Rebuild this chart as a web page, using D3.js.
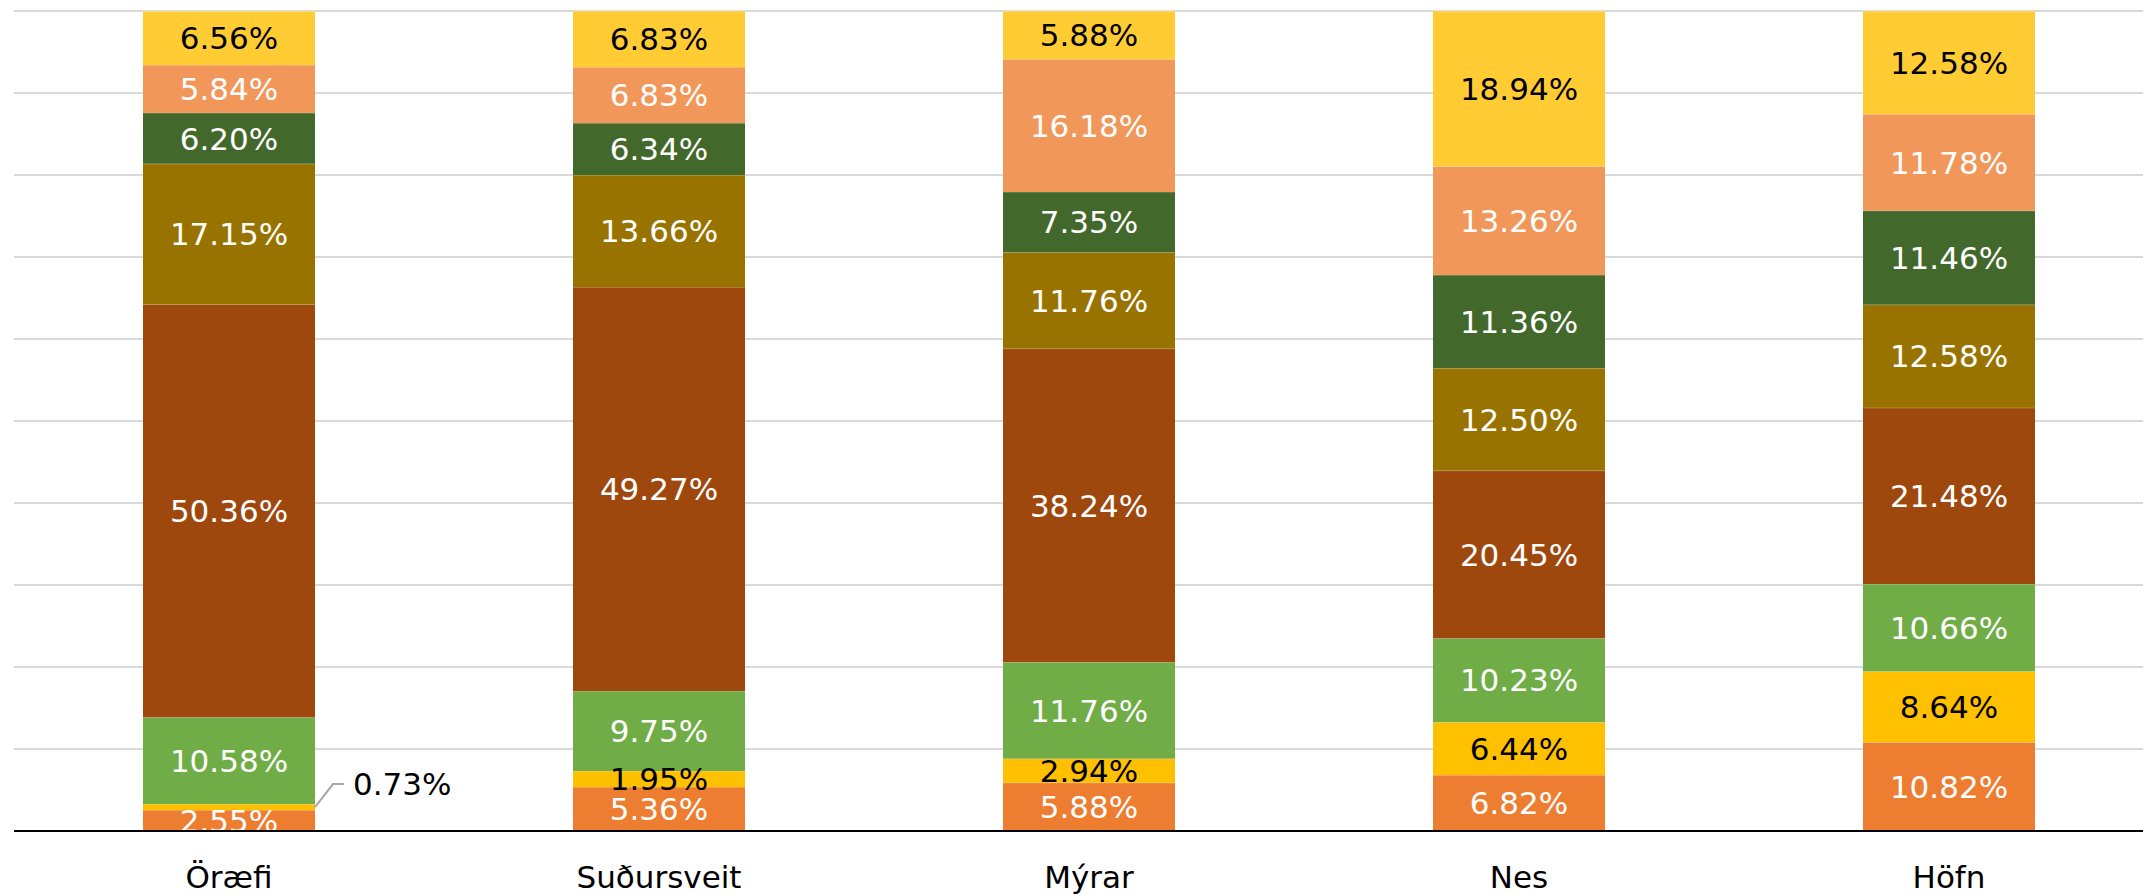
<!DOCTYPE html>
<html>
<head>
<meta charset="utf-8">
<script src="https://cdn.jsdelivr.net/npm/d3@7"></script>
<style>
  html, body { margin: 0; padding: 0; background: #ffffff; }
  svg { display: block; }
</style>
</head>
<body>
<svg id="chart" width="2143" height="895"></svg>
<script>
// ---- data ----
const categories = ["Öræfi", "Suðursveit", "Mýrar", "Nes", "Höfn"];
const seriesNames = ["s1", "s2", "s3", "s4", "s5", "s6", "s7", "s8"];
const s1 = [2.55, 5.36, 5.88, 6.82, 10.82];
const s2 = [0.73, 1.95, 2.94, 6.44, 8.64];
const s3 = [10.58, 9.75, 11.76, 10.23, 10.66];
const s4 = [50.36, 49.27, 38.24, 20.45, 21.48];
const s5 = [17.15, 13.66, 11.76, 12.50, 12.58];
const s6 = [6.20, 6.34, 7.35, 11.36, 11.46];
const s7 = [5.84, 6.83, 16.18, 13.26, 11.78];
const s8 = [6.56, 6.83, 5.88, 18.94, 12.58];
const yTicks = [0, 10, 20, 30, 40, 50, 60, 70, 80, 90, 100];

const seriesValues = [s1, s2, s3, s4, s5, s6, s7, s8];
const colors = ["#ED7D31", "#FFC000", "#70AD47", "#9E480E", "#997300", "#43682B", "#F1975A", "#FFCD33"];
const labelColors = ["#ffffff", "#000000", "#ffffff", "#ffffff", "#ffffff", "#ffffff", "#ffffff", "#000000"];
const FONT = "'DejaVu Sans', 'Liberation Sans', Arial, sans-serif";

const rows = categories.map((c, i) => {
  const r = { cat: c };
  seriesNames.forEach((s, k) => r[s] = seriesValues[k][i]);
  return r;
});

const svg = d3.select("#chart");
const plotLeft = 14, plotTop = 11, plotBottom = 831;

const x = d3.scaleBand().domain(categories).range([plotLeft, plotLeft + 2150])
  .paddingInner(0.6).paddingOuter(0.3);
const y = d3.scaleLinear().domain([0, 100]).range([plotBottom, plotTop]);

// gridlines
svg.append("g").selectAll("line").data(yTicks.filter(t => t > 0)).join("line")
  .attr("x1", plotLeft).attr("x2", 2143)
  .attr("y1", d => y(d)).attr("y2", d => y(d))
  .attr("stroke", "#d9d9d9").attr("stroke-width", 2);

const stack = d3.stack().keys(seriesNames)(rows);

svg.append("clipPath").attr("id", "plotclip")
  .append("rect").attr("x", 0).attr("y", 0).attr("width", 2143).attr("height", plotBottom);

const layers = svg.append("g").selectAll("g").data(stack).join("g")
  .attr("fill", (d, i) => colors[i]);

layers.selectAll("rect").data(d => d).join("rect")
  .attr("x", d => x(d.data.cat))
  .attr("width", x.bandwidth())
  .attr("y", d => y(d[1]))
  .attr("height", d => y(d[0]) - y(d[1]));

// segment separators (thin light lines)
layers.selectAll("line.sep").data(d => d).join("line")
  .attr("class", "sep")
  .attr("x1", d => x(d.data.cat)).attr("x2", d => x(d.data.cat) + x.bandwidth())
  .attr("y1", d => y(d[1])).attr("y2", d => y(d[1]))
  .attr("stroke", "#ffffff").attr("stroke-opacity", 0.35).attr("stroke-width", 1);

// labels
const labelG = svg.append("g").attr("clip-path", "url(#plotclip)")
  .attr("font-family", FONT)
  .attr("font-size", 31);

stack.forEach((layer, k) => {
  layer.forEach((d, i) => {
    const v = seriesValues[k][i];
    const txt = v.toFixed(2) + "%";
    const cx = x(d.data.cat) + x.bandwidth() / 2;
    const cy = (y(d[0]) + y(d[1])) / 2;
    if (v < 1) {
      const x0 = x(d.data.cat) + x.bandwidth();
      const ly = cy - 23;
      svg.append("polyline")
        .attr("points", `${x0},${cy} ${x0 + 18},${ly} ${x0 + 29},${ly}`)
        .attr("fill", "none").attr("stroke", "#a6a6a6").attr("stroke-width", 2);
      svg.append("text")
        .attr("x", x0 + 38).attr("y", ly)
        .attr("dy", "0.36em")
        .attr("font-family", FONT)
        .attr("font-size", 31)
        .attr("fill", "#000000")
        .text(txt);
    } else {
      labelG.append("text")
        .attr("x", cx).attr("y", cy)
        .attr("dy", "0.36em")
        .attr("text-anchor", "middle")
        .attr("fill", labelColors[k])
        .text(txt);
    }
  });
});

// baseline axis
svg.append("line")
  .attr("x1", plotLeft).attr("x2", 2143).attr("y1", plotBottom).attr("y2", plotBottom)
  .attr("stroke", "#000000").attr("stroke-width", 2);

// category axis
const xAxis = d3.axisBottom(x).tickSize(0).tickPadding(0);
const ax = svg.append("g").attr("transform", `translate(0,${plotBottom})`).call(xAxis);
ax.select(".domain").remove();
ax.selectAll("text")
  .attr("font-family", FONT)
  .attr("font-size", 31)
  .attr("fill", "#000000")
  .attr("dy", 0)
  .attr("y", 57);
</script>
</body>
</html>
